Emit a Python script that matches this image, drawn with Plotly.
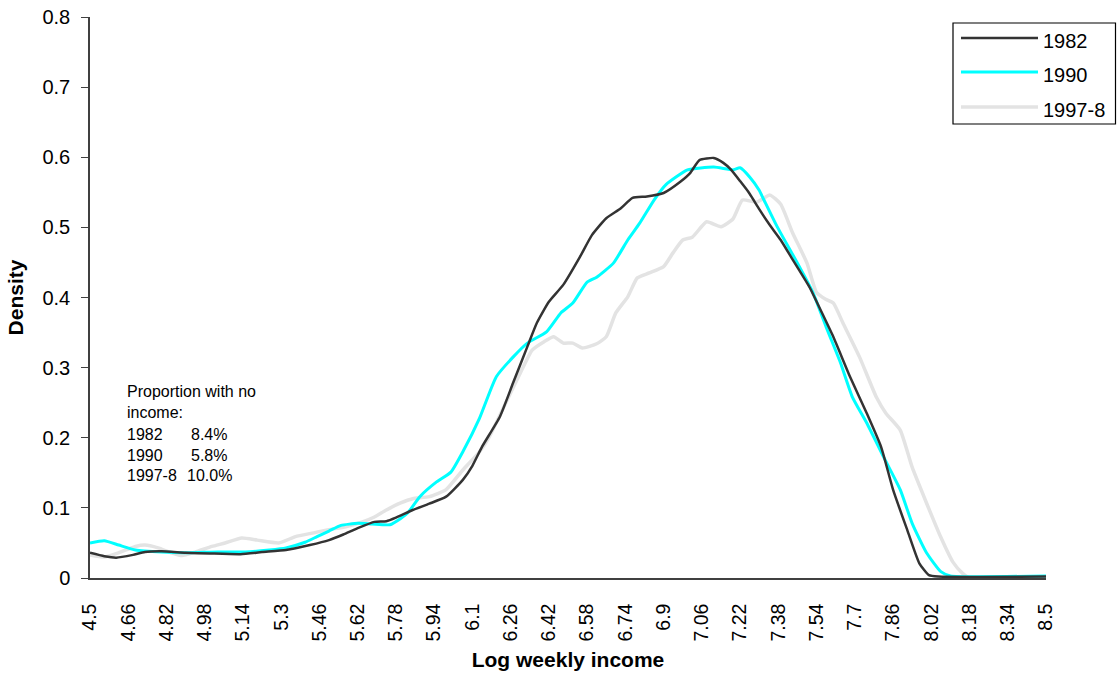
import plotly.graph_objects as go

# Kernel density of log weekly income by survey year
x_1982 = [4.50, 4.56, 4.61, 4.68, 4.73, 4.80, 4.90, 5.00, 5.13, 5.22, 5.32, 5.42, 5.50, 5.56,
          5.62, 5.69, 5.74, 5.78, 5.85, 5.92, 5.99, 6.06, 6.10, 6.14, 6.215, 6.27, 6.33, 6.37,
          6.42, 6.48, 6.55, 6.60, 6.66, 6.72, 6.77, 6.83, 6.90, 6.97, 7.01, 7.05, 7.11, 7.15,
          7.18, 7.22, 7.26, 7.30, 7.345, 7.39, 7.44, 7.51, 7.56, 7.61, 7.68, 7.75, 7.81, 7.86,
          7.92, 7.97, 8.01, 8.05, 8.50]
y_1982 = [0.036, 0.031, 0.029, 0.033, 0.037, 0.038, 0.036, 0.035, 0.034, 0.037, 0.040, 0.047,
          0.054, 0.062, 0.071, 0.080, 0.081, 0.086, 0.097, 0.106, 0.116, 0.140, 0.160, 0.187,
          0.230, 0.278, 0.330, 0.364, 0.394, 0.418, 0.458, 0.489, 0.513, 0.527, 0.542, 0.544,
          0.549, 0.565, 0.577, 0.596, 0.599, 0.592, 0.583, 0.566, 0.548, 0.526, 0.503, 0.482,
          0.454, 0.415, 0.380, 0.344, 0.287, 0.235, 0.187, 0.126, 0.068, 0.021, 0.004, 0.002,
          0.002]

x_1990 = [4.50, 4.56, 4.62, 4.69, 4.80, 4.90, 5.035, 5.15, 5.25, 5.32, 5.40, 5.45, 5.50, 5.55,
          5.62, 5.68, 5.755, 5.80, 5.83, 5.88, 5.95, 6.01, 6.06, 6.13, 6.20, 6.27, 6.33, 6.41,
          6.47, 6.52, 6.58, 6.62, 6.69, 6.75, 6.80, 6.86, 6.91, 7.00, 7.11, 7.19, 7.22, 7.26,
          7.30, 7.32, 7.375, 7.46, 7.525, 7.58, 7.64, 7.69, 7.75, 7.82, 7.89, 7.94, 8.00, 8.06,
          8.10, 8.50]
y_1990 = [0.050, 0.053, 0.047, 0.040, 0.037, 0.036, 0.037, 0.037, 0.040, 0.043, 0.051, 0.059,
          0.067, 0.075, 0.078, 0.077, 0.076, 0.085, 0.093, 0.116, 0.137, 0.151, 0.180, 0.228,
          0.287, 0.315, 0.335, 0.351, 0.378, 0.392, 0.422, 0.429, 0.449, 0.482, 0.506, 0.539,
          0.561, 0.582, 0.586, 0.582, 0.585, 0.572, 0.553, 0.539, 0.501, 0.449, 0.407, 0.358,
          0.307, 0.258, 0.221, 0.173, 0.126, 0.078, 0.036, 0.009, 0.003, 0.003]

x_1997 = [4.50, 4.56, 4.62, 4.69, 4.73, 4.785, 4.84, 4.885, 4.94, 5.01, 5.065, 5.135, 5.20,
          5.29, 5.36, 5.43, 5.50, 5.57, 5.64, 5.69, 5.74, 5.80, 5.85, 5.92, 5.99, 6.06, 6.13,
          6.17, 6.24, 6.30, 6.35, 6.40, 6.44, 6.48, 6.52, 6.56, 6.62, 6.66, 6.70, 6.75, 6.79,
          6.84, 6.90, 6.94, 6.98, 7.02, 7.08, 7.14, 7.19, 7.23, 7.29, 7.345, 7.39, 7.44, 7.50,
          7.54, 7.58, 7.61, 7.65, 7.72, 7.79, 7.83, 7.89, 7.94, 8.00, 8.06, 8.11, 8.15, 8.18,
          8.50]
y_1997 = [0.033, 0.030, 0.036, 0.045, 0.047, 0.043, 0.036, 0.032, 0.037, 0.045, 0.050, 0.057,
          0.054, 0.050, 0.059, 0.064, 0.069, 0.073, 0.080, 0.087, 0.097, 0.107, 0.113, 0.116,
          0.126, 0.154, 0.180, 0.201, 0.250, 0.292, 0.325, 0.337, 0.344, 0.335, 0.335, 0.328,
          0.334, 0.344, 0.378, 0.401, 0.428, 0.435, 0.444, 0.464, 0.482, 0.486, 0.508, 0.501,
          0.512, 0.539, 0.536, 0.546, 0.533, 0.492, 0.449, 0.407, 0.397, 0.392, 0.364, 0.315,
          0.258, 0.235, 0.211, 0.158, 0.107, 0.058, 0.023, 0.007, 0.000, 0.000]

series_names = ["1982", "1990", "1997-8"]
series_colors = ["#333333", "#00FFFF", "#E3E3E3"]
series_widths = [2.5, 3, 3.5]

x_ticks = [round(4.5 + 0.16 * i, 2) for i in range(26)]
x_tick_text = ["4.5", "4.66", "4.82", "4.98", "5.14", "5.3", "5.46", "5.62", "5.78", "5.94",
               "6.1", "6.26", "6.42", "6.58", "6.74", "6.9", "7.06", "7.22", "7.38", "7.54",
               "7.7", "7.86", "8.02", "8.18", "8.34", "8.5"]
y_ticks = [0, 0.1, 0.2, 0.3, 0.4, 0.5, 0.6, 0.7, 0.8]
y_tick_text = ["0", "0.1", "0.2", "0.3", "0.4", "0.5", "0.6", "0.7", "0.8"]

note_lines = [("Proportion with no", ""), ("income:", ""),
              ("1982", "8.4%"), ("1990", "5.8%"), ("1997-8", "10.0%")]

FONT = "Liberation Sans, Arial, sans-serif"
W, H = 1117, 675
L, R, T, B = 90, 71, 17, 97
PW, PH = W - L - R, H - T - B


def px(xp):
    return (xp - L) / PW


def py(yp):
    return (H - B - yp) / PH


fig = go.Figure()
series = [(x_1997, y_1997), (x_1990, y_1990), (x_1982, y_1982)]
order = [2, 1, 0]
for (xs, ys), k in zip(series, order):
    fig.add_trace(go.Scatter(
        x=xs, y=ys, mode="lines", name=series_names[k], showlegend=False,
        line=dict(color=series_colors[k], width=series_widths[k], shape="spline", smoothing=0.5),
    ))

# Legend box drawn with paper-referenced shapes
shapes = [dict(type="rect", xref="paper", yref="paper",
               x0=px(953), x1=px(1115.5), y0=py(124), y1=py(23),
               line=dict(color="#000000", width=1.2), fillcolor="rgba(0,0,0,0)")]
annotations = []
legend_rows = [38, 72, 107]
for k, yrow in enumerate(legend_rows):
    shapes.append(dict(type="line", xref="paper", yref="paper",
                       x0=px(961), x1=px(1038), y0=py(yrow), y1=py(yrow),
                       line=dict(color=series_colors[k], width=series_widths[k])))
    annotations.append(dict(xref="paper", yref="paper", x=px(1041), y=py(yrow + 3),
                            text=series_names[k], showarrow=False, xanchor="left",
                            yanchor="middle", font=dict(family=FONT, size=20, color="#000")))

note_rows = [391, 412, 434, 455, 476]
for (left, right), yrow in zip(note_lines, note_rows):
    annotations.append(dict(xref="paper", yref="paper", x=px(125), y=py(yrow),
                            text=left, showarrow=False, xanchor="left", yanchor="middle",
                            font=dict(family=FONT, size=16, color="#000")))
    if right:
        xr = 185 if len(right) > 4 else 189
        annotations.append(dict(xref="paper", yref="paper", x=px(xr), y=py(yrow),
                                text=right, showarrow=False, xanchor="left", yanchor="middle",
                                font=dict(family=FONT, size=16, color="#000")))

fig.update_layout(
    width=W, height=H,
    margin=dict(l=L, r=R, t=T, b=B),
    paper_bgcolor="white", plot_bgcolor="white",
    font=dict(family=FONT, color="#000"),
    shapes=shapes, annotations=annotations,
    xaxis=dict(
        range=[4.5, 8.5], tickmode="array", tickvals=x_ticks, ticktext=x_tick_text,
        tickangle=-90, tickfont=dict(size=19.5, family=FONT), ticks="", ticklabelstandoff=16,
        showgrid=False, zeroline=False, showline=True, linecolor="#404040", linewidth=1.5,
        automargin=False,
        title=dict(text="<b>Log weekly income</b>", font=dict(size=21, family=FONT), standoff=12),
    ),
    yaxis=dict(
        range=[0, 0.8], tickmode="array", tickvals=y_ticks, ticktext=y_tick_text,
        tickfont=dict(size=20, family=FONT), ticks="outside", ticklen=7, tickcolor="#404040",
        tickwidth=1.2, ticklabelstandoff=7, automargin=False,
        showgrid=False, zeroline=False, showline=True, linecolor="#404040", linewidth=1.5,
        title=dict(text="<b>Density</b>", font=dict(size=21, family=FONT), standoff=13),
    ),
)

fig.write_html("out.html")
